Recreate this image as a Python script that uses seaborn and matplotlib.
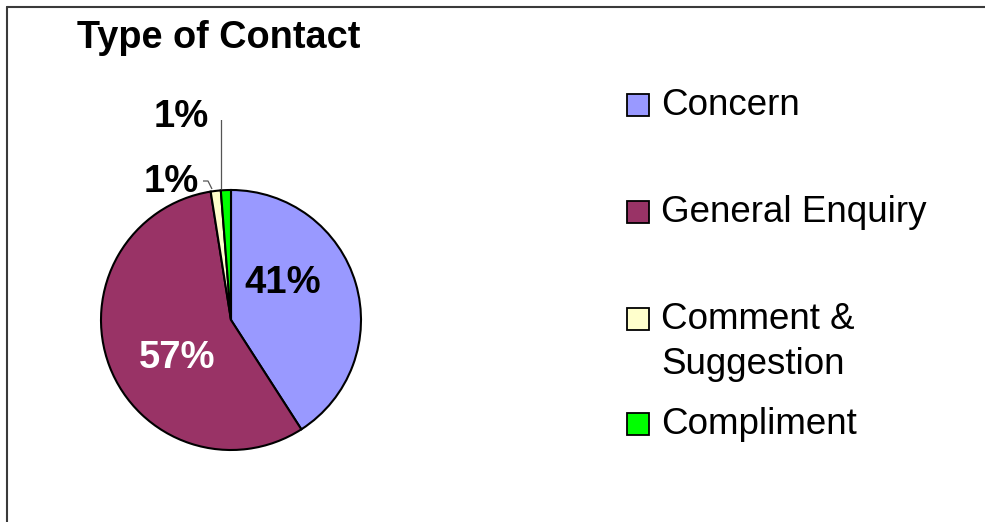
import matplotlib
matplotlib.use("Agg")
import matplotlib.pyplot as plt
import numpy as np
import seaborn as sns
from matplotlib.patches import Rectangle
from matplotlib.lines import Line2D

# Chart data (shares in %; labels round to 41/57/1/1)
categories = ["Concern", "General Enquiry", "Comment &\nSuggestion", "Compliment"]
shares = [40.9, 56.6, 1.25, 1.25]
colors = ["#9999FF", "#993366", "#FFFFCC", "#00FF00"]
title = "Type of Contact"

sns.set_theme(style="white")
plt.rcParams["font.family"] = ["Liberation Sans", "DejaVu Sans"]
plt.rcParams["text.color"] = "black"
palette = sns.color_palette(colors)

W, H = 985, 522
fig = plt.figure(figsize=(W / 100, H / 100), dpi=100)
fig.patch.set_facecolor("white")

# pie axes: centre at (231, 320) px, radius 130 px
R = 130.0
cx, cy = 231, 320
half = 200
ax = fig.add_axes([(cx - half) / W, (H - cy - half) / H, 2 * half / W, 2 * half / H])

wedges, texts, autotexts = ax.pie(
    shares, colors=palette, startangle=90, counterclock=False,
    autopct="%.0f%%", pctdistance=0.5,
    wedgeprops=dict(edgecolor="black", linewidth=1.5),
    textprops=dict(fontsize=27.5, fontweight="bold"),
)
ax.set_xlim(-half / R, half / R)
ax.set_ylim(-half / R, half / R)
ax.set_aspect("equal")
ax.axis("off")

# label placement (pixel offsets from the pie centre)
label_px = [(52, 37), (-54, -38), (-60, 138), (-50, 203)]
label_col = ["black", "white", "black", "black"]
for t, (dx, dy), c in zip(autotexts, label_px, label_col):
    t.set_position((dx / R, dy / R))
    t.set_color(c)
    t.set_ha("center")
    t.set_va("center")

# leader lines for the two small slices
def to_data(px, py):
    return (px - cx) / R, (cy - py) / R

x0, y0 = to_data(203, 181)
x1, y1 = to_data(208, 181)
x2, y2 = to_data(212, 189)
ax.plot([x0, x1, x2], [y0, y1, y2], color="#555555", lw=0.9, solid_capstyle="butt")
x0, y0 = to_data(213, 115)
x1, y1 = to_data(221, 115)
x2, y2 = to_data(221, 189)
ax.plot([x0, x1, x2], [y0, y1, y2], color="#555555", lw=0.9, solid_capstyle="butt")

# title
fig.text(77 / W, 1 - 48 / H, title, fontsize=27.3, fontweight="bold",
         ha="left", va="baseline", color="black")

# legend, drawn by hand to keep the square on the first text line
square_bottom = [116, 223, 330, 435]
for lab, col, yb in zip(categories, palette, square_bottom):
    fig.add_artist(Rectangle((627 / W, 1 - yb / H), 22 / W, 22 / H,
                             transform=fig.transFigure, facecolor=col,
                             edgecolor="black", linewidth=1.3))
    for i, line in enumerate(lab.split("\n")):
        fig.text(661 / W, 1 - (yb - 1 + i * 45) / H, line, fontsize=26.5,
                 ha="left", va="baseline", color="black")

# chart border (top and left edges visible)
fig.add_artist(Line2D([6.5 / W, 6.5 / W], [0, 1 - 6.5 / H], transform=fig.transFigure,
                      color="#3a3a3a", lw=1.5))
fig.add_artist(Line2D([6.5 / W, 1], [1 - 6.5 / H, 1 - 6.5 / H], transform=fig.transFigure,
                      color="#3a3a3a", lw=1.5))

fig.savefig("out.png", dpi=100)
